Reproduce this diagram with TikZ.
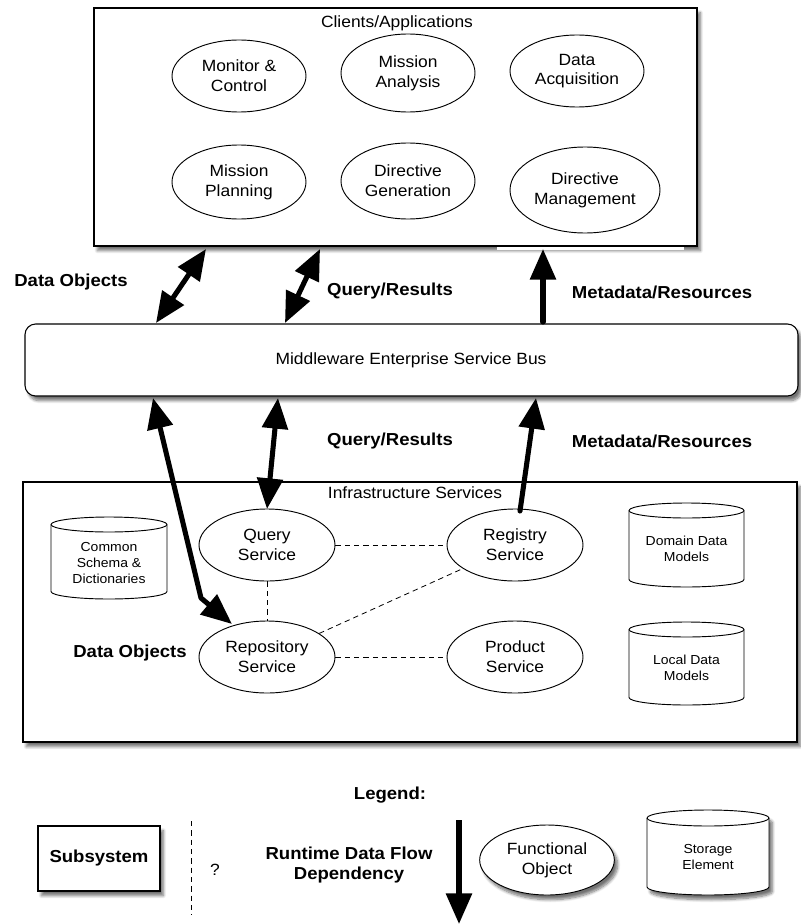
\documentclass[tikz,border=0pt]{standalone}
\usepackage{fontspec}
\setmainfont{Liberation Sans}[FakeStretch=1.07]
\usetikzlibrary{shapes.geometric,arrows.meta,shadows.blur}

\newcommand\fnorm{\fontsize{12.2}{14.8}\selectfont}
\newcommand\fbold{\fontsize{13}{15}\selectfont\bfseries}
\newcommand\fsmall{\fontsize{9.8}{12}\selectfont}

\tikzset{
  shad/.style={blur shadow={shadow xshift=2.5pt, shadow yshift=-3.5pt, shadow blur steps=8, shadow opacity=55}},
  box/.style={draw, line width=0.8pt, fill=white, inner sep=0pt},
  fobj/.style={draw, ellipse, fill=white, inner sep=0pt, line width=0.7pt, align=center, font=\fnorm},
  txt/.style={align=center, font=\fnorm, inner sep=0pt},
  stxt/.style={align=center, font=\fsmall, inner sep=0pt},
  lbl/.style={align=center, font=\fbold, inner sep=0pt},
  hd/.tip={Triangle[length=23pt,width=19pt]},
  flow/.style={line width=3.8pt, line cap=round, line join=round, -hd},
  dflow/.style={line width=3.8pt, line join=round, hd-hd},
  dep/.style={line width=0.6pt, dash pattern=on 4pt off 3pt},
}

% cylinder: #1 options, #2 cx, #3 top, #4 bottom, #5 half width, #6 cap radius
\newcommand\cylshape[6]{%
  \path[draw, line width=0.7pt, fill=white, #1]
    (#2-#5,#3+#6) -- (#2-#5,#4-#6)
    arc[start angle=180, end angle=0, x radius=#5, y radius=#6]
    -- (#2+#5,#3+#6)
    arc[start angle=0, end angle=-180, x radius=#5, y radius=#6] -- cycle;
  \draw[line width=0.7pt] (#2-#5,#3+#6)
    arc[start angle=180, end angle=0, x radius=#5, y radius=#6];
}

\begin{document}
\begin{tikzpicture}[x=0.75pt, y=-0.75pt]
\useasboundingbox (0,0) rectangle (800,924);

% ---------- Clients / Applications ----------
\node (clients) [box, shad, minimum width=452.25pt, minimum height=178.5pt] at (395.5,127) {};
\draw[white, line width=1.6pt] (497,248.5) -- (684,248.5);
\node (clientsT) [txt] at (397,23) {Clients/Applications};

\node (mc) [fobj, minimum width=100.5pt, minimum height=54pt]   at (239,76)  {Monitor \&\\Control};
\node (ma) [fobj, minimum width=100.5pt, minimum height=58.5pt] at (408,73) {Mission\\Analysis};
\node (da) [fobj, minimum width=100.5pt, minimum height=54pt]   at (577,71)  {Data\\Acquisition};
\node (mp) [fobj, minimum width=100.5pt, minimum height=55.5pt] at (239,182) {Mission\\Planning};
\node (dg) [fobj, minimum width=100.5pt, minimum height=57pt]   at (408,181) {Directive\\Generation};
\node (dm) [fobj, minimum width=112.5pt, minimum height=64.5pt] at (585,190) {Directive\\Management};

% ---------- Bus ----------
\node (bus) [box, shad, rounded corners=8pt, minimum width=579.75pt, minimum height=54pt] at (411.5,360) {};
\node (busT) [txt] at (411,360) {Middleware Enterprise Service Bus};

% ---------- Infrastructure ----------
\node (infra) [box, shad, minimum width=580.5pt, minimum height=195pt] at (410,612) {};
\node (infraT) [txt] at (415,493) {Infrastructure Services};

\cylshape{}{109}{517}{599}{58}{7.5}
\node (cs) [stxt] at (109,563) {Common\\Schema \&\\Dictionaries};
\cylshape{}{686.5}{503}{587}{57.5}{7.5}
\node (ddm) [stxt] at (686.5,549) {Domain Data\\Models};
\cylshape{}{686.5}{622}{705}{57.5}{7.5}
\node (ldm) [stxt] at (686.5,668) {Local Data\\Models};

\node (qs) [fobj, minimum width=102pt, minimum height=54pt] at (267,545) {Query\\Service};
\node (rs) [fobj, minimum width=102pt, minimum height=54pt] at (515,545) {Registry\\Service};
\node (rp) [fobj, minimum width=102pt, minimum height=54pt] at (267,657) {Repository\\Service};
\node (ps) [fobj, minimum width=102pt, minimum height=54pt] at (515,657) {Product\\Service};

\draw[dep] (qs) -- (rs);
\draw[dep] (qs) -- (rp);
\draw[dep] (rp) -- (rs);
\draw[dep] (rp) -- (ps);

% ---------- flows between clients and bus ----------
\coordinate (c1) at (206,249);  \coordinate (b1) at (156,323);
\coordinate (c2) at (320,249);  \coordinate (b2) at (285,323);
\coordinate (c3) at (543,249);  \coordinate (b3) at (543,322);
\draw[dflow] (b1) -- (c1);
\draw[dflow] (b2) -- (c2);
\draw[flow] (b3) -- (c3);

\node (do1) [lbl] at (71,282) {Data Objects};
\node (qr1) [lbl] at (390,291) {Query/Results};
\node (md1) [lbl] at (662,292) {Metadata/Resources};

% ---------- flows between bus and infrastructure ----------
\coordinate (b4) at (153,398);  \coordinate (k4) at (201,598);  \coordinate (r4) at (232,624);
\coordinate (b5) at (278,398);  \coordinate (q5) at (267,509);
\coordinate (b6) at (536,398);  \coordinate (s6) at (520,511);
\draw[dflow] (b4) -- (k4) -- (r4);
\draw[dflow] (b5) -- (q5);
\draw[flow] (s6) -- (b6);

\node (qr2) [lbl] at (390,441) {Query/Results};
\node (md2) [lbl] at (662,441) {Metadata/Resources};
\node (do2) [lbl] at (130,653) {Data Objects};

% ---------- Legend ----------
\node (leg) [lbl] at (390,795) {Legend:};
\node (subs) [box, shad, minimum width=91.5pt, minimum height=48.75pt, font=\fbold] at (99,858.5) {Subsystem};
\coordinate (dt) at (191,821); \coordinate (db) at (191,915);
\draw[dep] (dt) -- (db);
\node (qm) [txt] at (215,870) {?};
\node (rdf) [lbl] at (349,865) {Runtime Data Flow\\Dependency};
\coordinate (at) at (459,820); \coordinate (ab) at (459,924);
\draw[flow, line cap=butt] (at) -- (ab);
\node (fo) [fobj, shad, minimum width=101pt, minimum height=52.5pt] at (547,860) {Functional\\Object};
\cylshape{shad}{708}{810}{895}{61}{8}
\node (se) [stxt] at (708,857) {Storage\\Element};
\end{tikzpicture}
\end{document}
